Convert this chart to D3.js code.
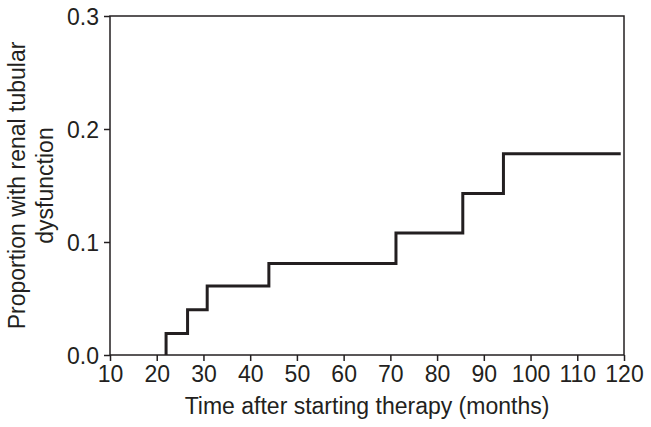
<!DOCTYPE html>
<html>
<head>
<meta charset="utf-8">
<script src="https://cdn.jsdelivr.net/npm/d3@7"></script>
<style>
  body { margin: 0; background: #fff; }
  text { font-family: "Liberation Sans", Arial, sans-serif; fill: #231f20; }
</style>
</head>
<body>
<script>
// Data
const eventTimes = [22, 26.6, 30.8, 44, 71.2, 85.5, 94.2];
const proportions = [0.019, 0.040, 0.061, 0.081, 0.108, 0.143, 0.178];
const followUpEnd = 119.3;
const xTicks = [10, 20, 30, 40, 50, 60, 70, 80, 90, 100, 110, 120];
const yTicks = [0.0, 0.1, 0.2, 0.3];

// Dimensions
const margin = {top: 16, right: 27, bottom: 72, left: 110},
      width = 651 - margin.left - margin.right,
      height = 427 - margin.top - margin.bottom;

const svg = d3.select("body")
  .append("svg")
    .attr("width", 651)
    .attr("height", 427)
  .append("g")
    .attr("transform", "translate(" + margin.left + "," + margin.top + ")");

const x = d3.scaleLinear().domain([10, 120]).range([0, width]);
const y = d3.scaleLinear().domain([0, 0.3]).range([height, 0]);

// Frame
svg.append("rect")
    .attr("x", 0).attr("y", 0)
    .attr("width", width).attr("height", height)
    .attr("fill", "none")
    .attr("stroke", "#231f20")
    .attr("stroke-width", 1.5);

// X axis
const xAxis = svg.append("g")
    .attr("transform", "translate(0," + height + ")")
    .call(d3.axisBottom(x).tickValues(xTicks).tickSize(6).tickPadding(5));

// Y axis
const yAxis = svg.append("g")
    .call(d3.axisLeft(y).tickValues(yTicks).tickFormat(d3.format(".1f")).tickSize(6).tickPadding(5));

[xAxis, yAxis].forEach(function(g) {
  g.select(".domain").remove();
  g.selectAll(".tick line").attr("stroke", "#231f20").attr("stroke-width", 1.5);
  g.selectAll(".tick text")
    .style("font-size", "23px")
    .style("font-family", "'Liberation Sans', Arial, sans-serif")
    .attr("fill", "#231f20");
});
yAxis.selectAll(".tick text").attr("dy", "0.36em");

// Step curve
const points = [[22, 0]].concat(eventTimes.map((t, i) => [t, proportions[i]]));
points.push([followUpEnd, proportions[proportions.length - 1]]);

const line = d3.line()
    .x(d => x(d[0]))
    .y(d => y(d[1]))
    .curve(d3.curveStepAfter);

svg.append("path")
    .datum(points)
    .attr("d", line)
    .attr("fill", "none")
    .attr("stroke", "#231f20")
    .attr("stroke-width", 3);

// Axis titles
svg.append("text")
    .attr("x", width / 2)
    .attr("y", height + 59)
    .attr("text-anchor", "middle")
    .style("font-size", "23px")
    .text("Time after starting therapy (months)");

const yTitle = svg.append("text")
    .attr("transform", "translate(" + (-85) + "," + (height / 2) + ") rotate(-90)")
    .attr("text-anchor", "middle")
    .style("font-size", "23px");
yTitle.append("tspan").attr("x", 0).attr("y", 0).text("Proportion with renal tubular");
yTitle.append("tspan").attr("x", 0).attr("y", 28).text("dysfunction");
</script>
</body>
</html>
